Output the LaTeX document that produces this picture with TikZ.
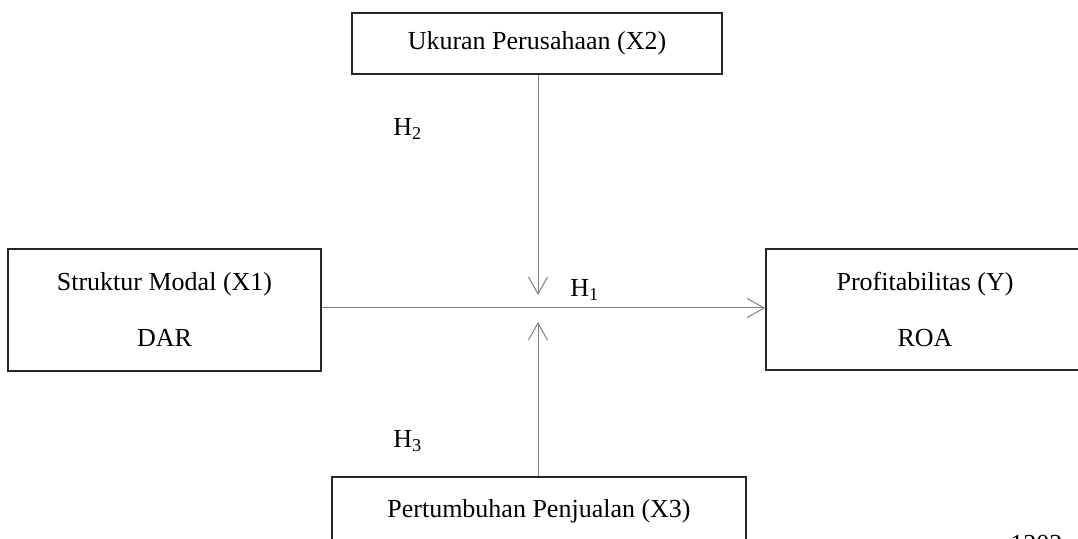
\documentclass[tikz,border=0pt]{standalone}
\usepackage{fontspec}
\setmainfont{Liberation Serif}
\usetikzlibrary{positioning}
\usetikzlibrary{arrows.meta}
\tikzset{
	varbox/.style={draw=black!85, line width=0.75pt, rectangle, align=center, font=\fontsize{13}{15}\selectfont},
	link/.style={draw=gray, line width=0.5pt, -{Straight Barb[length=8.5pt,width=9.5pt,line width=0.5pt]}},
	hlabel/.style={anchor=base west, inner sep=0pt, font=\fontsize{13}{15}\selectfont}
}

\begin{document}
\begin{tikzpicture}[x=0.5pt,y=-0.5pt]
					\useasboundingbox (0,0) rectangle (1078,539);
					%Nodes
					\node[varbox, minimum width=185pt, minimum height=30.5pt] (size) at (537,43.5) {Ukuran Perusahaan (X2)};
					\node[varbox, minimum width=156.5pt, minimum height=61pt] (capital) at (164.5,310) {Struktur Modal (X1)\\[13pt]DAR};
					\node[varbox, minimum width=159pt, minimum height=60.5pt] (profit) at (925,309.5) {Profitabilitas (Y)\\[13pt]ROA};
					\node[varbox, minimum width=207pt, minimum height=34pt] (growth) at (539,511) {Pertumbuhan Penjualan (X3)};
					\coordinate      (tipdown) 	at 	(538,295);
					\coordinate      (tipup) 	at 	(538,322);
					
					%Labels
					\node[hlabel] (h2) at (393,136) {H\textsubscript{2}};
					\node[hlabel] (h1) at (570,297) {H\textsubscript{1}};
					\node[hlabel] (h3) at (393,448) {H\textsubscript{3}};
					\node[hlabel] (page) at (1010,553) {1202};
					
					%Lines
					\draw[link] (capital.east |- 0,308) -- (profit.west |- 0,308);
					\draw[link] (size.south -| tipdown) -- (tipdown);
					\draw[link] (growth.north -| tipup) -- (tipup);
\end{tikzpicture}
\end{document}
